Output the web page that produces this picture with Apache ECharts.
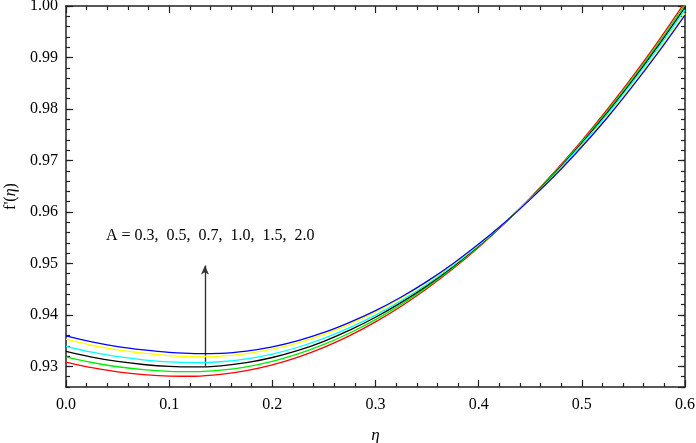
<!DOCTYPE html>
<html><head><meta charset="utf-8">
<script src="https://cdn.jsdelivr.net/npm/echarts@6/dist/echarts.min.js"></script>
<style>html,body{margin:0;padding:0;background:#fff}#c{width:696px;height:443px}</style>
</head><body><div id="c"></div>
<script>
// eta grid
const eta = [0, 0.025, 0.05, 0.075, 0.1, 0.125, 0.15, 0.175, 0.2, 0.225, 0.25, 0.275, 0.3,
  0.325, 0.35, 0.375, 0.4, 0.425, 0.45, 0.475, 0.5, 0.525, 0.55, 0.575, 0.6];
// f'(eta) for each A
const fA03 = [0.93084, 0.92976, 0.92895, 0.92840, 0.92811, 0.92809, 0.92844, 0.92917, 0.93029, 0.93180, 0.93369, 0.93597, 0.93864,
  0.94169, 0.94512, 0.94895, 0.95316, 0.95776, 0.96274, 0.96811, 0.97386, 0.98000, 0.98653, 0.99344, 1.00075]; // red
const fA05 = [0.93186, 0.93076, 0.92993, 0.92936, 0.92903, 0.92897, 0.92926, 0.92993, 0.93099, 0.93244, 0.93427, 0.93649, 0.93908,
  0.94205, 0.94540, 0.94915, 0.95328, 0.95779, 0.96268, 0.96795, 0.97362, 0.97968, 0.98615, 0.99300, 1.00025]; // green
const fA07 = [0.93293, 0.93181, 0.93096, 0.93037, 0.93000, 0.92989, 0.93012, 0.93073, 0.93173, 0.93311, 0.93488, 0.93704, 0.93954,
  0.94243, 0.94569, 0.94936, 0.95341, 0.95782, 0.96262, 0.96778, 0.97337, 0.97934, 0.98575, 0.99254, 0.99972]; // black
const fA10 = [0.93390, 0.93276, 0.93189, 0.93128, 0.93087, 0.93073, 0.93090, 0.93145, 0.93239, 0.93372, 0.93543, 0.93753, 0.93996,
  0.94277, 0.94596, 0.94955, 0.95352, 0.95785, 0.96256, 0.96763, 0.97314, 0.97904, 0.98539, 0.99212, 0.99925]; // cyan
const fA15 = [0.93528, 0.93411, 0.93321, 0.93258, 0.93211, 0.93192, 0.93201, 0.93248, 0.93334, 0.93458, 0.93621, 0.93823, 0.94055,
  0.94326, 0.94634, 0.94982, 0.95368, 0.95789, 0.96248, 0.96741, 0.97282, 0.97861, 0.98488, 0.99153, 0.99857]; // yellow
const fA20 = [0.93594, 0.93476, 0.93385, 0.93320, 0.93271, 0.93249, 0.93254, 0.93297, 0.93379, 0.93500, 0.93659, 0.93857, 0.94084,
  0.94349, 0.94652, 0.94995, 0.95376, 0.95791, 0.96244, 0.96731, 0.97266, 0.97840, 0.98463, 0.99124, 0.99825]; // blue
const seriesNames = ['A = 0.3', 'A = 0.5', 'A = 0.7', 'A = 1.0', 'A = 1.5', 'A = 2.0'];
const seriesColors = ['#ff0000', '#00ee00', '#000000', '#00ffff', '#ffff00', '#0000ff'];
const arrowEta = [0.1347, 0.1347];
const arrowF = [0.9300, 0.9496];
const annotation = 'A = 0.3,  0.5,  0.7,  1.0,  1.5,  2.0';

const FONT = '"Liberation Serif", "Times New Roman", serif';
const AX = '#222';
const allF = [fA03, fA05, fA07, fA10, fA15, fA20];

const series = allF.map((arr, i) => ({
  name: seriesNames[i],
  type: 'line',
  xAxisIndex: 0, yAxisIndex: 0,
  data: eta.map((e, j) => [e, arr[j]]),
  smooth: 0.3,
  symbol: 'none',
  clip: true,
  lineStyle: { color: seriesColors[i], width: 1.3 },
  z: 3 + i
}));
series[0].markLine = {
  silent: true,
  symbol: ['none', 'arrow'],
  symbolSize: [6, 9],
  label: { show: false },
  lineStyle: { color: '#333', width: 1.4, type: 'solid' },
  data: [[{ coord: [arrowEta[0], arrowF[0]] }, { coord: [arrowEta[1], arrowF[1]] }]]
};

const xBase = {
  type: 'value', min: 0, max: 0.6, interval: 0.1, gridIndex: 0,
  axisLine: { show: true, lineStyle: { color: AX, width: 1.5 } },
  axisTick: { show: true, inside: true, length: 7, lineStyle: { color: AX, width: 1.2 } },
  minorTick: { show: true, splitNumber: 5, length: 4, lineStyle: { color: AX, width: 1.2 } },
  splitLine: { show: false }
};
const yMinor = {
  type: 'value', min: 0.926, max: 1.0, interval: 0.002, gridIndex: 0,
  axisLine: { show: true, lineStyle: { color: AX, width: 1.5 } },
  axisTick: { show: true, inside: true, length: 4, lineStyle: { color: AX, width: 1.2 } },
  axisLabel: { show: false },
  splitLine: { show: false }
};
const yMajor = {
  type: 'value', min: 0.926, max: 1.0, splitNumber: 7, gridIndex: 0,
  axisLine: { show: false },
  axisTick: { show: true, inside: true, length: 7, lineStyle: { color: AX, width: 1.2 } },
  splitLine: { show: false }
};

const chart = echarts.init(document.getElementById('c'), null, { renderer: 'canvas' });
chart.setOption({
  animation: false,
  backgroundColor: '#fff',
  grid: { left: 66, right: 11, top: 6, bottom: 56, containLabel: false, outerBoundsMode: 'none' },
  xAxis: [
    Object.assign({}, xBase, {
      position: 'bottom',
      name: 'η', nameLocation: 'middle', nameGap: 40,
      nameTextStyle: { fontFamily: FONT, fontSize: 17, fontStyle: 'italic', color: '#000' },
      axisLabel: { show: true, margin: 10, fontFamily: FONT, fontSize: 16, color: '#000',
        formatter: v => v.toFixed(1) }
    }),
    Object.assign({}, xBase, { position: 'top', axisLabel: { show: false } })
  ],
  yAxis: [
    Object.assign({}, yMinor, { position: 'left' }),
    Object.assign({}, yMajor, {
      position: 'left',
      name: "f'({i|η})", nameLocation: 'middle', nameGap: 46, nameRotate: 90,
      nameTextStyle: { fontFamily: FONT, fontSize: 16, color: '#000',
        rich: { i: { fontFamily: FONT, fontSize: 16, fontStyle: 'italic', color: '#000' } } },
      axisLabel: { show: true, margin: 8, fontFamily: FONT, fontSize: 16, color: '#000',
        showMinLabel: false,
        formatter: v => (Math.abs(v * 100 - Math.round(v * 100)) < 1e-6 ? v.toFixed(2) : '') }
    }),
    Object.assign({}, yMinor, { position: 'right' }),
    Object.assign({}, yMajor, { position: 'right', axisLabel: { show: false } })
  ],
  graphic: [{
    type: 'text', left: 106, top: 228,
    style: { text: annotation, font: '16px ' + FONT, fill: '#000' }
  }],
  series: series
});
</script>
</body></html>
